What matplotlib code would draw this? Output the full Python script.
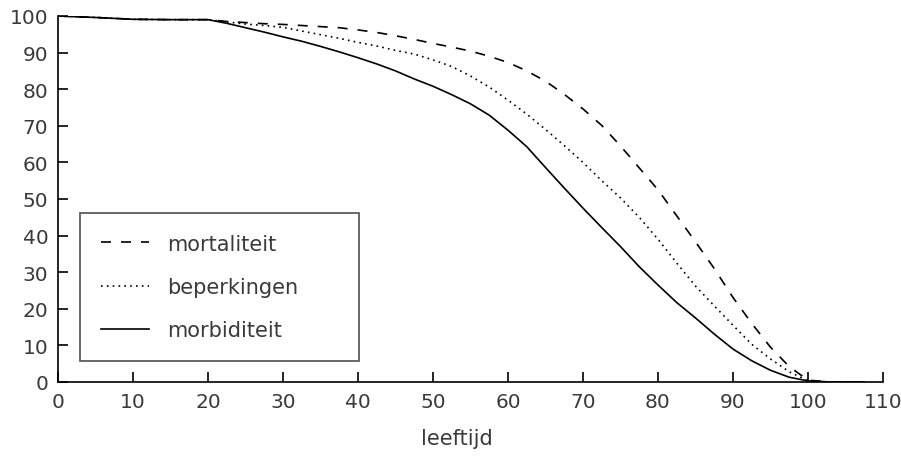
import matplotlib
matplotlib.use("Agg")
import matplotlib.pyplot as plt

# ---- data ----
age = [0, 5, 10, 15, 20, 22.5, 25, 27.5, 30, 32.5, 35, 37.5, 40, 42.5, 45, 47.5,
       50, 52.5, 55, 57.5, 60, 62.5, 65, 67.5, 70, 72.5, 75, 77.5, 80, 82.5,
       85, 87.5, 90, 92.5, 95, 97.5, 100, 103, 105, 107.5]
mortaliteit = [100, 99.6, 99.1, 99, 99, 98.5, 98.2, 97.9, 97.7, 97.4, 97.1, 96.8,
               96.2, 95.5, 94.6, 93.6, 92.5, 91.5, 90.4, 89.0, 87.3, 85.0, 82.2,
               78.6, 74.6, 70.1, 64.5, 58.5, 52.5, 45.4, 38.3, 31.0, 23.1, 16.0,
               9.5, 4.2, 0.5, 0, 0, 0]
beperkingen = [100, 99.6, 99.1, 99, 99, 98.4, 97.8, 97.4, 96.9, 95.9, 94.9, 93.9,
               92.8, 91.8, 90.6, 89.6, 88.0, 86.2, 83.6, 80.6, 77.0, 73.2, 69.0,
               64.6, 60.0, 55.0, 50.3, 45.0, 39.0, 32.5, 26.2, 20.8, 15.5, 10.3,
               6.3, 2.8, 0.3, 0, 0, 0]
morbiditeit = [100, 99.6, 99.1, 99, 99, 98.0, 96.8, 95.6, 94.3, 93.1, 91.7, 90.2,
               88.6, 86.9, 85.0, 82.8, 80.8, 78.5, 76.0, 72.9, 68.8, 64.3, 58.6,
               53.0, 47.5, 42.2, 37.0, 31.5, 26.5, 21.7, 17.5, 13.1, 9.0, 5.8,
               3.2, 1.3, 0.3, 0, 0, 0]
labels = ["mortaliteit", "beperkingen", "morbiditeit"]
xticks = list(range(0, 111, 10))
yticks = list(range(0, 101, 10))
xlabel = "leeftijd"

txt = "#3a3a3a"
fig = plt.figure(figsize=(9.01, 4.60), dpi=100)
ax = fig.add_axes([58/901, 1-383/460, 825/901, 366/460])

ax.plot(age, mortaliteit, color="black", lw=1.2, linestyle=(0, (6, 6)), label=labels[0])
ax.plot(age, beperkingen, color="black", lw=1.2, linestyle=(0, (1, 2.5)), label=labels[1])
ax.plot(age, morbiditeit, color="black", lw=1.2, linestyle="-", label=labels[2])

ax.set_xlim(0, 110)
ax.set_ylim(0, 100)
ax.set_xticks(xticks)
ax.set_yticks(yticks)
ax.tick_params(direction="in", length=7, width=1.2, color="black",
               labelsize=14.5, labelcolor=txt, pad=7)
for s in ["top", "right"]:
    ax.spines[s].set_visible(False)
for s in ["left", "bottom"]:
    ax.spines[s].set_linewidth(1.2)
    ax.spines[s].set_color("black")

ax.set_xlabel(xlabel, fontsize=15, color=txt)
ax.xaxis.set_label_coords(0.484, -0.125)

leg = ax.legend(loc="lower left", bbox_to_anchor=(0.0267, 0.057, 0.338, 0.1),
                mode="expand", fontsize=15,
                frameon=True, fancybox=False, edgecolor="#222222",
                handlelength=2.3, handletextpad=0.9, labelspacing=1.12,
                borderpad=1.0, borderaxespad=0)
leg.get_frame().set_linewidth(1.2)
for t in leg.get_texts():
    t.set_color(txt)

fig.savefig("out.png", dpi=100, facecolor="white")
